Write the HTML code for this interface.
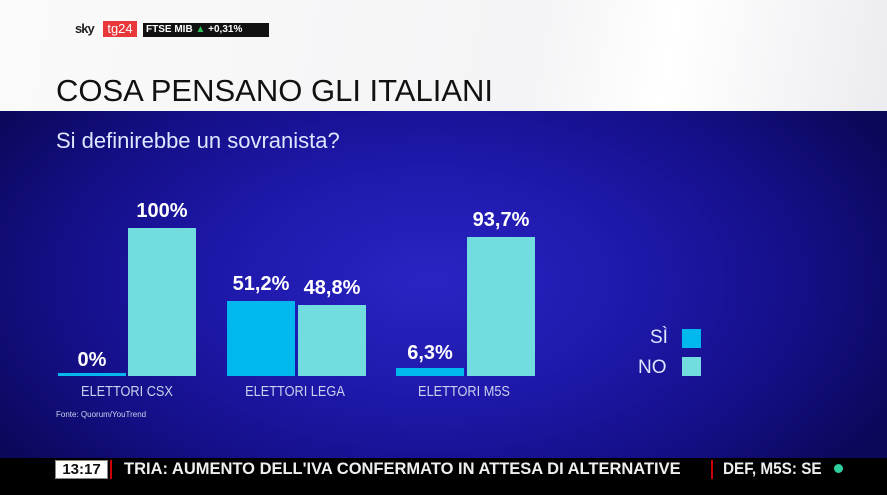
<!DOCTYPE html>
<html><head><meta charset="utf-8"><style>
html,body{margin:0;width:887px;height:495px;overflow:hidden}
body{position:relative;font-family:"Liberation Sans",sans-serif;background:#000}
.a{position:absolute}
.hdr{left:0;top:0;width:887px;height:111px;background:linear-gradient(100deg,#fafafa 0%,#f4f4f6 60%,#fff 75%,#ececf0 100%)}
.panel{left:0;top:111px;width:887px;height:347px;background:radial-gradient(ellipse 520px 300px at 430px 170px,#2a24c4 0%,#1e18aa 40%,#140f86 72%,#0a0858 100%);overflow:hidden}
.v{color:#fff;font-weight:bold;font-size:20px;text-align:center;width:100px}
.c{color:#c8d2ee;font-size:15px;text-align:center;width:140px;transform:scaleX(.85)}
.si{background:#00b8ee}.no{background:#72dcdf}
</style></head><body>
<div class="a hdr"></div>
<div class="a" style="left:75px;top:21px;font-size:13px;font-weight:bold;color:#222;letter-spacing:-1px">sky</div>
<div class="a" style="left:103px;top:21px;width:34px;height:16px;background:#e8383a;color:#fff;font-size:13px;line-height:16px;text-align:center">tg24</div>
<div class="a" style="left:143px;top:23px;width:123px;height:14px;background:#111;color:#fff;font-size:10px;font-weight:bold;line-height:14px;padding-left:3px;white-space:nowrap;overflow:hidden">FTSE MIB <span style="color:#2ec05a">▲</span> +0,31%</div>
<div class="a" style="left:56px;top:73px;font-size:31px;color:#111;white-space:nowrap">COSA PENSANO GLI ITALIANI</div>
<div class="a panel"></div>
<div class="a" style="left:56px;top:128px;font-size:22px;color:#dfe6ff">Si definirebbe un sovranista?</div>
<div class="a si" style="left:58px;top:373px;width:68px;height:3px"></div>
<div class="a no" style="left:128px;top:228px;width:68px;height:148px"></div>
<div class="a si" style="left:227px;top:301px;width:68px;height:75px"></div>
<div class="a no" style="left:298px;top:305px;width:68px;height:71px"></div>
<div class="a si" style="left:396px;top:368px;width:68px;height:8px"></div>
<div class="a no" style="left:467px;top:237px;width:68px;height:139px"></div>
<div class="a v" style="left:42px;top:349px">0%</div>
<div class="a v" style="left:112px;top:200px">100%</div>
<div class="a v" style="left:211px;top:273px">51,2%</div>
<div class="a v" style="left:282px;top:277px">48,8%</div>
<div class="a v" style="left:380px;top:342px">6,3%</div>
<div class="a v" style="left:451px;top:209px">93,7%</div>
<div class="a c" style="left:57px;top:383px">ELETTORI CSX</div>
<div class="a c" style="left:225px;top:383px">ELETTORI LEGA</div>
<div class="a c" style="left:394px;top:383px">ELETTORI M5S</div>
<div class="a" style="left:56px;top:410px;font-size:8px;color:#c8d2ee">Fonte: Quorum/YouTrend</div>
<div class="a" style="left:650px;top:327px;font-size:19px;color:#dfe6ff">SÌ</div>
<div class="a si" style="left:682px;top:329px;width:19px;height:19px"></div>
<div class="a" style="left:638px;top:357px;font-size:19px;color:#dfe6ff">NO</div>
<div class="a no" style="left:682px;top:357px;width:19px;height:19px"></div>
<div class="a" style="left:55px;top:460px;width:51px;height:17px;background:#fff;border:1px solid #888;color:#111;font-size:15px;font-weight:bold;text-align:center;line-height:17px">13:17</div>
<div class="a" style="left:110px;top:460px;width:2px;height:19px;background:#c00"></div>
<div class="a" style="left:124px;top:459px;height:22px;font-size:17px;font-weight:bold;color:#eee;white-space:nowrap;line-height:20px;transform:scaleX(.97);transform-origin:left">TRIA: AUMENTO DELL'IVA CONFERMATO IN ATTESA DI ALTERNATIVE</div>
<div class="a" style="left:711px;top:460px;width:2px;height:19px;background:#c00"></div>
<div class="a" style="left:723px;top:459px;height:22px;font-size:17px;font-weight:bold;color:#eee;white-space:nowrap;line-height:20px;transform:scaleX(.9);transform-origin:left">DEF, M5S: SE</div>
<div class="a" style="left:834px;top:464px;width:9px;height:9px;border-radius:50%;background:#2ed0a0"></div>
</body></html>
